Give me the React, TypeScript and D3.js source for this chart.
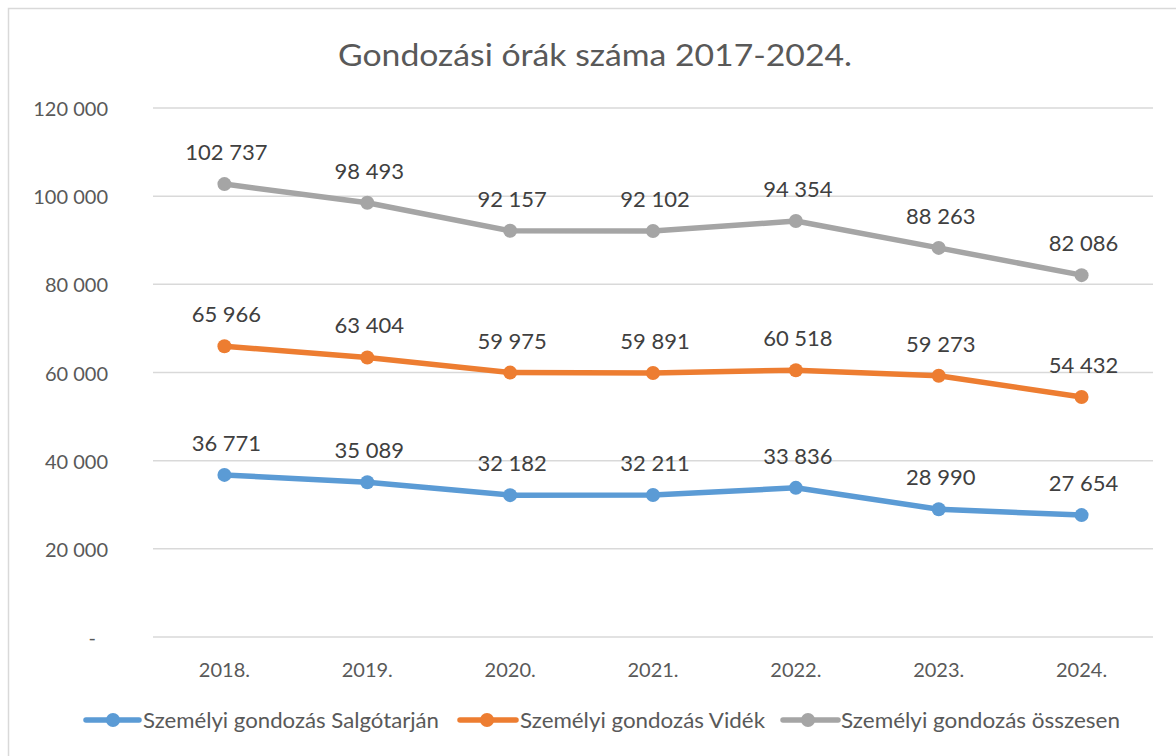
import React from "react";
import * as d3 from "d3";

const categories = ["2018.", "2019.", "2020.", "2021.", "2022.", "2023.", "2024."];
const salgotarjan = [36771, 35089, 32182, 32211, 33836, 28990, 27654];
const videk = [65966, 63404, 59975, 59891, 60518, 59273, 54432];
const osszesen = [102737, 98493, 92157, 92102, 94354, 88263, 82086];
const yTicks = [0, 20000, 40000, 60000, 80000, 100000, 120000];
const seriesNames = ["Személyi gondozás Salgótarján", "Személyi gondozás Vidék", "Személyi gondozás összesen"];
const colors = ["#5b9bd5", "#ed7d31", "#a5a5a5"];

const W = 1176, H = 756;
const FONT = "Lato, 'Open Sans', sans-serif";

const fmt = (v: number) => {
  if (v === 0) return "-";
  const s = Math.round(v).toString();
  return s.replace(/\B(?=(\d{3})+(?!\d))/g, "\u00a0");
};

export default function App() {
  const x = d3.scaleBand<string>().domain(categories).range([153, 1153]);
  const y = d3.scaleLinear().domain([0, 120000]).range([637, 108]);
  const series = [salgotarjan, videk, osszesen];
  const cx = (i: number) => (x(categories[i]) as number) + x.bandwidth() / 2;
  const line = d3.line<number>().x((_, i) => cx(i)).y((d) => y(d));
  const legend = [
    { x1: 86, x2: 139, m: 113, t: 143, w: 296 },
    { x1: 460, x2: 516, m: 487, t: 520, w: 245 },
    { x1: 783, x2: 838, m: 808, t: 841, w: 279 },
  ];
  return (
    <svg width={W} height={H} style={{ position: "absolute", left: 0, top: 0, background: "#fff" }}>
      <rect x={8.5} y={8.5} width={1180} height={760} fill="#fff" stroke="#d9d9d9" strokeWidth={1.5} />
      <text x={338} y={66} textLength={514} lengthAdjust="spacingAndGlyphs" fontFamily={FONT} fontSize={31} fill="#595959">
        Gondozási órák száma 2017-2024.
      </text>
      {yTicks.map((t) => (
        <g key={t}>
          <line x1={153} x2={1153} y1={y(t)} y2={y(t)} stroke="#d9d9d9" strokeWidth={1.5} />
          <text x={t === 0 ? 96 : 108} y={y(t) + 8} textAnchor="end" fontFamily={FONT} fontSize={20} fill="#595959">
            {fmt(t)}
          </text>
        </g>
      ))}
      {categories.map((c, i) => (
        <text key={c} x={cx(i)} y={677} textAnchor="middle" fontFamily={FONT} fontSize={20} fill="#595959">
          {c}
        </text>
      ))}
      {series.map((s, si) => (
        <g key={si}>
          <path d={line(s) || ""} fill="none" stroke={colors[si]} strokeWidth={5.5} strokeLinejoin="round" strokeLinecap="round" />
          {s.map((v, i) => (
            <circle key={i} cx={cx(i)} cy={y(v)} r={7} fill={colors[si]} />
          ))}
          {s.map((v, i) => (
            <text key={"l" + i} x={cx(i) + 2} y={y(v) - 24} textAnchor="middle" fontFamily={FONT} fontSize={22} fill="#404040">
              {fmt(v)}
            </text>
          ))}
        </g>
      ))}
      {seriesNames.map((n, i) => (
        <g key={n}>
          <line x1={legend[i].x1} x2={legend[i].x2} y1={720} y2={720} stroke={colors[i]} strokeWidth={5.5} strokeLinecap="round" />
          <circle cx={legend[i].m} cy={720} r={7} fill={colors[i]} />
          <text x={legend[i].t} y={728} textLength={legend[i].w} lengthAdjust="spacingAndGlyphs" fontFamily={FONT} fontSize={21.5} fill="#595959">{n}</text>
        </g>
      ))}
    </svg>
  );
}
